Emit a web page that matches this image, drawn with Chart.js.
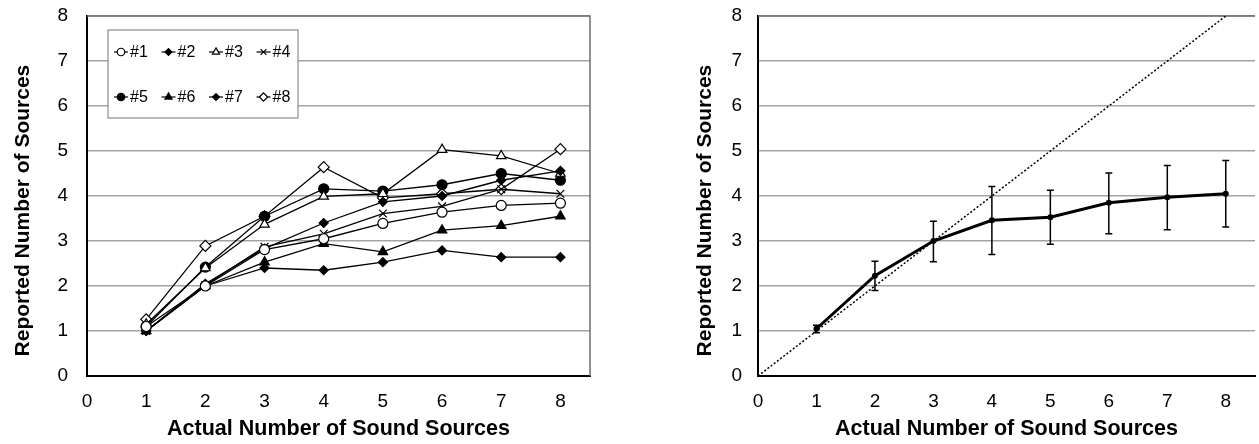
<!DOCTYPE html>
<html><head><meta charset="utf-8">
<script src="https://cdn.jsdelivr.net/npm/chart.js@4/dist/chart.umd.min.js"></script>
<style>
html,body{margin:0;padding:0;background:#fff;width:1259px;height:444px;overflow:hidden}
#c1{position:absolute;left:0;top:0}
#c2{position:absolute;left:680px;top:0}
</style></head><body>
<canvas id="c1" width="600" height="444"></canvas>
<canvas id="c2" width="579" height="444"></canvas>
<script>
// ---- data ----
const categories = [1, 2, 3, 4, 5, 6, 7, 8];
const yTickValues = [0, 1, 2, 3, 4, 5, 6, 7, 8];
const seriesNames = ['#1', '#2', '#3', '#4', '#5', '#6', '#7', '#8'];
const s1 = [1.10, 2.00, 2.81, 3.05, 3.39, 3.64, 3.79, 3.84];
const s2 = [1.00, 2.05, 2.83, 3.40, 3.87, 4.00, 4.35, 4.56];
const s3 = [1.15, 2.40, 3.37, 3.99, 4.05, 5.03, 4.89, 4.50];
const s4 = [1.00, 2.02, 2.87, 3.16, 3.61, 3.77, 4.15, 4.05];
const s5 = [1.10, 2.42, 3.55, 4.16, 4.11, 4.25, 4.50, 4.35];
const s6 = [1.00, 2.00, 2.53, 2.94, 2.76, 3.24, 3.34, 3.55];
const s7 = [1.00, 2.00, 2.40, 2.35, 2.53, 2.79, 2.64, 2.64];
const s8 = [1.26, 2.89, 3.55, 4.64, 3.96, 4.05, 4.15, 5.04];
const meanReported = [1.05, 2.23, 3.00, 3.46, 3.53, 3.85, 3.97, 4.05];
const errUpper = [1.13, 2.55, 3.44, 4.21, 4.13, 4.51, 4.68, 4.79];
const errLower = [0.96, 1.90, 2.54, 2.70, 2.93, 3.16, 3.25, 3.31];
const diagonal = [0, 8];
const xTitle = 'Actual Number of Sound Sources';
const yTitle = 'Reported Number of Sources';

// ---- styles ----
const allSeries = [s1, s2, s3, s4, s5, s6, s7, s8];
const markerStyles = [
  {pointStyle: 'circle', fill: '#fff', r: 5},
  {pointStyle: 'rectRot', fill: '#000', r: 4.5},
  {pointStyle: 'triangle', fill: '#fff', r: 5.5},
  {pointStyle: 'crossRot', fill: '#000', r: 5.5},
  {pointStyle: 'circle', fill: '#000', r: 5},
  {pointStyle: 'triangle', fill: '#000', r: 5.5},
  {pointStyle: 'rectRot', fill: '#000', r: 4.5},
  {pointStyle: 'rectRot', fill: '#fff', r: 5.5}
];
const FONT = "'Liberation Sans', Arial, sans-serif";
const GRID = '#a3a3a3';

function toXY(xs, ys) { return xs.map((x, i) => ({x: x, y: ys[i]})); }

function commonScales(yWidth, yTitlePad, yTickGap) {
  return {
    x: {
      type: 'linear', min: 0, max: 8.5,
      ticks: {stepSize: 1, includeBounds: false, color: '#000', padding: 14,
              font: {family: FONT, size: 19}},
      grid: {display: false, drawTicks: false},
      border: {display: true, color: '#000', width: 2},
      title: {display: true, text: xTitle, color: '#000',
              font: {family: FONT, size: 21.5, weight: 'bold'}, padding: {top: 0, bottom: 2}},
      afterFit: s => { s.height = 68; }
    },
    y: {
      type: 'linear', min: 0, max: 8,
      afterBuildTicks: s => { s.ticks = yTickValues.map(v => ({value: v})); },
      ticks: {color: '#000', padding: 0, font: {family: FONT, size: 19}},
      grid: {color: GRID, lineWidth: 1.5, drawTicks: true, tickLength: yTickGap,
             tickColor: 'rgba(0,0,0,0)'},
      border: {display: true, color: '#000', width: 2},
      title: {display: true, text: yTitle + '     ', color: '#000',
              font: {family: FONT, size: 21, weight: 'bold'}, padding: {top: yTitlePad, bottom: 0}},
      afterFit: s => { s.width = yWidth; }
    }
  };
}

const frameTopRight = (drawRight) => ({
  id: 'frame',
  beforeDatasetsDraw(chart) {
    const ctx = chart.ctx, a = chart.chartArea;
    ctx.save();
    ctx.strokeStyle = '#6e6e6e'; ctx.lineWidth = 1.5;
    ctx.beginPath();
    ctx.moveTo(a.left, a.top); ctx.lineTo(a.right, a.top);
    if (drawRight) ctx.lineTo(a.right, a.bottom);
    ctx.stroke();
    ctx.restore();
  }
});

function drawMarker(ctx, st, x, y, r) {
  ctx.fillStyle = st.fill; ctx.strokeStyle = '#000'; ctx.lineWidth = 1.2;
  if (Chart.helpers && Chart.helpers.drawPoint) {
    Chart.helpers.drawPoint(ctx, {pointStyle: st.pointStyle, radius: r, borderWidth: 1.2, rotation: 0}, x, y);
  }
}

const boxLegend = {
  id: 'boxLegend',
  afterDraw(chart) {
    const ctx = chart.ctx, a = chart.chartArea;
    const bx = a.left + 21, by = a.top + 14, bw = 190, bh = 88;
    ctx.save();
    ctx.fillStyle = '#fff'; ctx.fillRect(bx, by, bw, bh);
    ctx.strokeStyle = '#8c8c8c'; ctx.lineWidth = 1.2; ctx.strokeRect(bx, by, bw, bh);
    seriesNames.forEach((name, i) => {
      const col = i % 4, row = Math.floor(i / 4);
      const sx = bx + 6 + col * 47.5, sy = by + 22 + row * 45;
      ctx.strokeStyle = '#000'; ctx.lineWidth = 1.2;
      ctx.beginPath(); ctx.moveTo(sx, sy); ctx.lineTo(sx + 14, sy); ctx.stroke();
      drawMarker(ctx, markerStyles[i], sx + 7, sy, markerStyles[i].r * 0.75);
      ctx.fillStyle = '#000'; ctx.font = '16px ' + FONT;
      ctx.textAlign = 'left'; ctx.textBaseline = 'middle';
      ctx.fillText(name, sx + 16, sy + 1);
    });
    ctx.restore();
  }
};

new Chart(document.getElementById('c1'), {
  type: 'line',
  data: {
    datasets: allSeries.map((s, i) => ({
      label: seriesNames[i],
      data: toXY(categories, s),
      borderColor: '#000', borderWidth: 1.3,
      pointStyle: markerStyles[i].pointStyle,
      pointRadius: markerStyles[i].r,
      pointBackgroundColor: markerStyles[i].fill,
      pointBorderColor: '#000', pointBorderWidth: 1.2,
      fill: false, tension: 0
    }))
  },
  options: {
    responsive: false, animation: false,
    layout: {padding: {top: 16, right: 10, left: 0, bottom: 0}},
    plugins: {legend: {display: false}, tooltip: {enabled: false}},
    scales: commonScales(87, 11, 19)
  },
  plugins: [frameTopRight(true), boxLegend]
});

const errorBars = {
  id: 'errorBars',
  afterDatasetsDraw(chart) {
    const ctx = chart.ctx, xs = chart.scales.x, ys = chart.scales.y;
    ctx.save();
    ctx.strokeStyle = '#000'; ctx.lineWidth = 1.5;
    categories.forEach((c, i) => {
      const px = xs.getPixelForValue(c);
      const pu = ys.getPixelForValue(errUpper[i]);
      const pl = ys.getPixelForValue(errLower[i]);
      ctx.beginPath();
      ctx.moveTo(px, pu); ctx.lineTo(px, pl);
      ctx.moveTo(px - 3.5, pu); ctx.lineTo(px + 3.5, pu);
      ctx.moveTo(px - 3.5, pl); ctx.lineTo(px + 3.5, pl);
      ctx.stroke();
    });
    ctx.restore();
  }
};

new Chart(document.getElementById('c2'), {
  type: 'line',
  data: {
    datasets: [
      {label: 'Mean', data: toXY(categories, meanReported),
       borderColor: '#000', borderWidth: 3, pointRadius: 3,
       pointBackgroundColor: '#000', pointBorderColor: '#000', pointBorderWidth: 0,
       fill: false, tension: 0},
      {label: 'Ideal', data: toXY(diagonal, diagonal),
       borderColor: '#000', borderWidth: 1.5, borderDash: [2, 2],
       pointRadius: 0, fill: false, tension: 0}
    ]
  },
  options: {
    responsive: false, animation: false,
    layout: {padding: {top: 16, right: 0, left: 0, bottom: 0}},
    plugins: {legend: {display: false}, tooltip: {enabled: false}},
    scales: commonScales(78, 13, 16)
  },
  plugins: [frameTopRight(false), errorBars]
});
</script>
</body></html>
